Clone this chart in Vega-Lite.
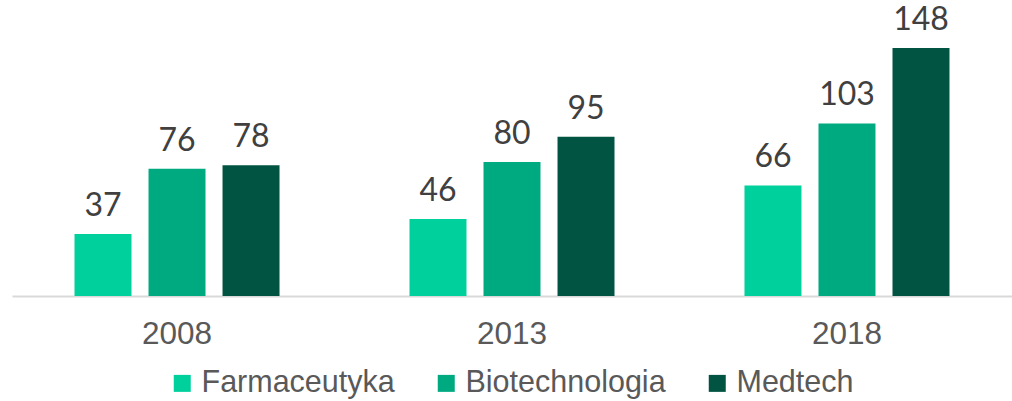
{
  "$schema": "https://vega.github.io/schema/vega-lite/v6.json",
  "width": 1000,
  "height": 248,
  "autosize": {"type": "none"},
  "padding": {"left": 12, "top": 48, "right": 0, "bottom": 105},
  "data": {
    "values": [
      {"year": "2008", "sector": "Farmaceutyka", "value": 37},
      {"year": "2008", "sector": "Biotechnologia", "value": 76},
      {"year": "2008", "sector": "Medtech", "value": 78},
      {"year": "2013", "sector": "Farmaceutyka", "value": 46},
      {"year": "2013", "sector": "Biotechnologia", "value": 80},
      {"year": "2013", "sector": "Medtech", "value": 95},
      {"year": "2018", "sector": "Farmaceutyka", "value": 66},
      {"year": "2018", "sector": "Biotechnologia", "value": 103},
      {"year": "2018", "sector": "Medtech", "value": 148}
    ]
  },
  "encoding": {
    "x": {
      "field": "year",
      "type": "nominal",
      "scale": {"paddingInner": 0.388, "paddingOuter": 0.1866},
      "axis": {
        "title": null,
        "ticks": false,
        "labelAngle": 0,
        "labelFont": "Liberation Sans",
        "labelFontSize": 31.5,
        "labelColor": "#595959",
        "labelPadding": 22,
        "domainColor": "#D9D9D9",
        "domainWidth": 2
      }
    },
    "xOffset": {
      "field": "sector",
      "type": "nominal",
      "sort": ["Farmaceutyka", "Biotechnologia", "Medtech"],
      "scale": {"paddingInner": 0.23, "paddingOuter": 0}
    },
    "y": {
      "field": "value",
      "type": "quantitative",
      "scale": {"domain": [0, 148], "nice": false, "zero": true},
      "axis": null
    }
  },
  "layer": [
    {
      "mark": {"type": "bar"},
      "encoding": {
        "color": {
          "field": "sector",
          "type": "nominal",
          "sort": ["Farmaceutyka", "Biotechnologia", "Medtech"],
          "scale": {
            "domain": ["Farmaceutyka", "Biotechnologia", "Medtech"],
            "range": ["#00D09C", "#00AA80", "#005441"]
          },
          "legend": {
            "title": null,
            "orient": "none",
            "legendX": 155,
            "legendY": 320,
            "direction": "horizontal",
            "symbolType": "square",
            "symbolSize": 289,
            "symbolStrokeWidth": 0,
            "labelFont": "Liberation Sans",
            "labelFontSize": 30.5,
            "labelColor": "#595959",
            "labelOffset": 4,
            "labelLimit": 0,
            "columnPadding": 36
          }
        }
      }
    },
    {
      "mark": {
        "type": "text",
        "baseline": "alphabetic",
        "dy": -18,
        "font": "Lato",
        "fontSize": 32,
        "color": "#404040"
      },
      "encoding": {
        "text": {"field": "value", "type": "quantitative"}
      }
    }
  ],
  "config": {
    "view": {"stroke": null}
  }
}
